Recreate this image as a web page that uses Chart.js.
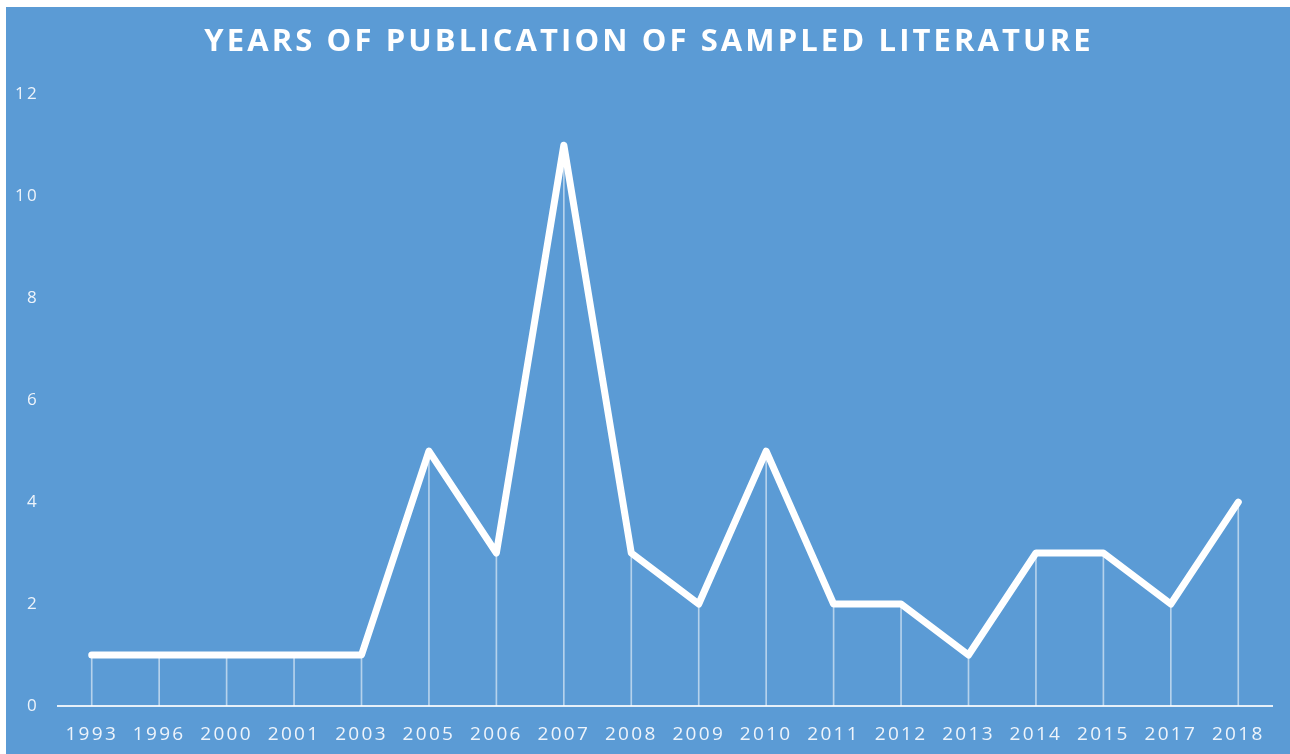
<!DOCTYPE html>
<html>
<head>
<meta charset="utf-8">
<script src="https://cdn.jsdelivr.net/npm/chart.js@4/dist/chart.umd.min.js"></script>
<style>
  html, body { margin: 0; padding: 0; background: #ffffff; }
  #wrap { position: absolute; left: 6px; top: 7px; width: 1284px; height: 747px; background: #5B9BD5; }
  canvas { display: block; }
</style>
</head>
<body>
<div id="wrap"><canvas id="c" width="1284" height="747"></canvas></div>
<script>
// Publication years and the number of sampled works per year
const years = ['1993','1996','2000','2001','2003','2005','2006','2007','2008','2009','2010','2011','2012','2013','2014','2015','2017','2018'];
const counts = [1, 1, 1, 1, 1, 5, 3, 11, 3, 2, 5, 2, 2, 1, 3, 3, 2, 4];
const yTicks = [0, 2, 4, 6, 8, 10, 12];

const titleText = 'YEARS OF PUBLICATION OF SAMPLED LITERATURE';

// Letter spacing for canvas text; the title is spaced wider and nudged right
const spacingPlugin = {
  id: 'spacing',
  afterInit(chart) {
    const tb = chart.titleBlock;
    if (tb) {
      const orig = tb.draw.bind(tb);
      tb.draw = function (area) {
        const ctx = chart.ctx;
        const prev = ctx.letterSpacing;
        ctx.save();
        ctx.translate(10, 1);
        ctx.letterSpacing = '3.1px';
        orig(area);
        ctx.restore();
        ctx.letterSpacing = prev;
      };
    }
  },
  beforeDraw(chart) { chart.ctx.letterSpacing = '2.3px'; },
  afterDraw(chart) { chart.ctx.letterSpacing = '0px'; }
};

new Chart(document.getElementById('c'), {
  data: {
    labels: years,
    datasets: [
      {
        type: 'line',
        data: counts,
        borderColor: '#ffffff',
        borderWidth: 7,
        borderJoinStyle: 'round',
        borderCapStyle: 'round',
        pointRadius: 0,
        tension: 0,
        order: 0
      },
      {
        // thin drop lines from each value down to the axis
        type: 'bar',
        data: counts,
        backgroundColor: 'rgba(255,255,255,0.55)',
        barThickness: 1,
        order: 1
      }
    ]
  },
  options: {
    responsive: false,
    animation: false,
    layout: { padding: { left: 0, right: 18, top: 0, bottom: 0 } },
    plugins: {
      legend: { display: false },
      tooltip: { enabled: false },
      title: {
        display: true,
        text: titleText,
        color: '#ffffff',
        font: { family: 'Open Sans', size: 31, weight: 'bold' },
        padding: { top: 16, bottom: 34 }
      }
    },
    scales: {
      x: {
        offset: true,
        afterFit(scale) { scale.height = 48; },
        grid: { display: true, drawOnChartArea: false, drawTicks: false },
        border: { display: true, color: 'rgba(255,255,255,0.85)', width: 2 },
        ticks: {
          color: '#eef4fb',
          font: { family: 'Open Sans', size: 19 },
          padding: 17,
          maxRotation: 0,
          autoSkip: false
        }
      },
      y: {
        min: 0,
        max: 12,
        afterBuildTicks(scale) { scale.ticks = yTicks.map(v => ({ value: v })); },
        afterFit(scale) { scale.width = 52; },
        grid: { display: false },
        border: { display: false },
        ticks: {
          color: '#eef4fb',
          font: { family: 'Open Sans', size: 17 },
          padding: 11
        }
      }
    }
  },
  plugins: [spacingPlugin]
});
</script>
</body>
</html>
